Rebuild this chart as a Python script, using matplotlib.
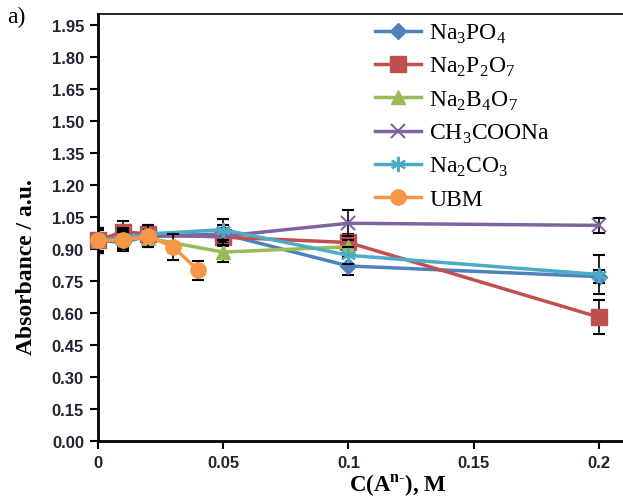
import matplotlib
matplotlib.use("Agg")
import matplotlib.pyplot as plt
from matplotlib.ticker import FormatStrFormatter

plt.rcParams['mathtext.fontset'] = 'custom'
plt.rcParams['mathtext.rm'] = 'Liberation Serif'
plt.rcParams['mathtext.bf'] = 'Liberation Serif:bold'

# concentrations (M)
conc = [0, 0.01, 0.02, 0.05, 0.1, 0.2]
conc_borate = [0, 0.01, 0.02, 0.05, 0.1]
conc_ubm = [0, 0.01, 0.02, 0.03, 0.04]

# absorbance values and error bars
na3po4 = [0.94, 0.93, 0.96, 0.97, 0.82, 0.77]
na3po4_err = [0.05, 0.04, 0.03, 0.04, 0.04, 0.03]
na2p2o7 = [0.94, 0.98, 0.97, 0.955, 0.93, 0.58]
na2p2o7_err = [0.06, 0.05, 0.03, 0.04, 0.04, 0.08]
na2b4o7 = [0.94, 0.95, 0.95, 0.885, 0.91]
na2b4o7_err = [0.05, 0.04, 0.04, 0.045, 0.03]
ch3coona = [0.94, 0.95, 0.96, 0.96, 1.02, 1.01]
ch3coona_err = [0.06, 0.04, 0.03, 0.04, 0.06, 0.035]
na2co3 = [0.94, 0.95, 0.97, 0.99, 0.87, 0.78]
na2co3_err = [0.06, 0.05, 0.04, 0.05, 0.04, 0.09]
ubm = [0.94, 0.94, 0.96, 0.91, 0.80]
ubm_err = [0.06, 0.04, 0.05, 0.06, 0.045]

xticks = [0, 0.05, 0.1, 0.15, 0.2]
xtick_labels = ['0', '0.05', '0.1', '0.15', '0.2']

series = [
    (conc, na3po4, na3po4_err, r'Na$_3$PO$_4$', '#4F81BD', 'D', 8),
    (conc, na2p2o7, na2p2o7_err, r'Na$_2$P$_2$O$_7$', '#C0504D', 's', 11),
    (conc_borate, na2b4o7, na2b4o7_err, r'Na$_2$B$_4$O$_7$', '#9BBB59', '^', 10),
    (conc, ch3coona, ch3coona_err, r'CH$_3$COONa', '#8064A2', 'x', 10),
    (conc, na2co3, na2co3_err, r'Na$_2$CO$_3$', '#4BACC6', (6, 2, 0), 11),
    (conc_ubm, ubm, ubm_err, 'UBM', '#F79646', 'o', 11),
]

fig = plt.figure(figsize=(6.23, 5.02), dpi=100)
ax = fig.add_axes([0.157, 0.1195, 0.843, 0.8505])

for i, (x, y, e, name, col, mk, ms) in enumerate(series):
    ax.errorbar(x, y, yerr=e, fmt='none', ecolor='black', elinewidth=1.2,
                capsize=4.5, capthick=1.5, zorder=3 + i)
    ax.plot(x, y, color=col, lw=2.5, marker=mk, markersize=ms,
            markeredgewidth=1.5 if mk in ('x', (6, 2, 0)) else 1,
            markeredgecolor=col, label=name, zorder=4 + i, clip_on=False)

ax.set_xlim(0, 0.2096)
ax.set_ylim(0, 2.0)
ax.set_xticks(xticks)
ax.set_xticklabels(xtick_labels)
ax.set_yticks([i * 0.15 for i in range(14)])
ax.yaxis.set_major_formatter(FormatStrFormatter('%.2f'))

for lab in ax.get_xticklabels() + ax.get_yticklabels():
    lab.set_family('Liberation Sans')
    lab.set_fontweight('bold')
    lab.set_fontsize(12)
    lab.set_color('#222233')

ax.tick_params(direction='out', length=6, width=1.5, pad=4)
ax.spines['right'].set_visible(False)
ax.spines['left'].set_linewidth(2)
ax.spines['bottom'].set_linewidth(2)
ax.spines['top'].set_linewidth(1.2)

ax.set_ylabel('Absorbance / a.u.', family='Liberation Serif', fontweight='bold',
              fontsize=17)
ax.yaxis.set_label_coords(-0.115, 0.41)
ax.set_xlabel(r'C(A$^{\mathbf{n}\text{-}}$), M', family='Liberation Serif',
              fontweight='bold', fontsize=16.5)
ax.xaxis.set_label_coords(0.571, -0.072)

fig.text(0.012, 0.955, 'a)', family='Liberation Serif', fontsize=17)

leg = ax.legend(loc='upper left', bbox_to_anchor=(0.51, 1.004), frameon=False,
                prop={'family': 'Liberation Serif', 'size': 17},
                handlelength=1.95, handletextpad=0.34, labelspacing=0.43,
                borderaxespad=0.0)

fig.savefig('out.png', dpi=100)
